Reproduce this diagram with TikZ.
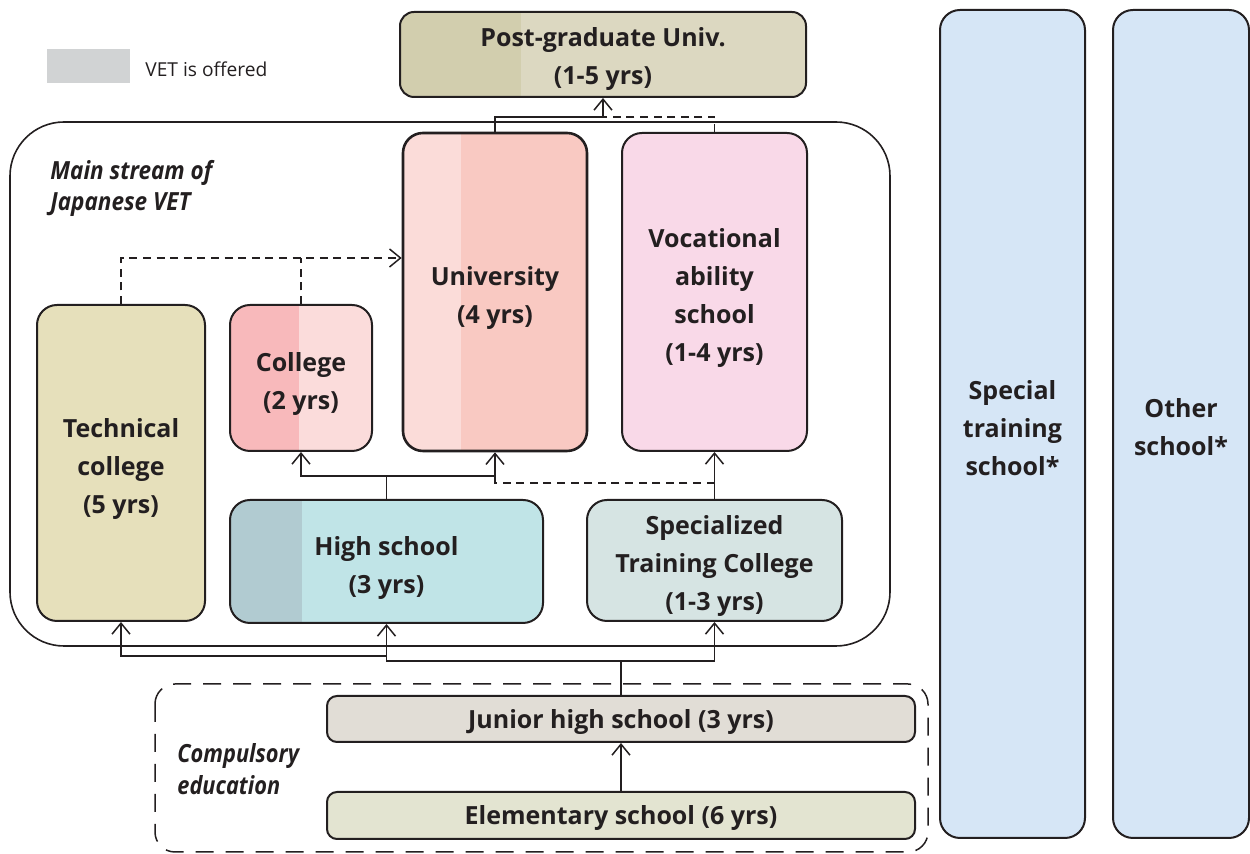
\documentclass[tikz,border=0pt]{standalone}
\usepackage{fontspec}
\usepackage{graphicx}
\setmainfont{Open Sans}
\usetikzlibrary{arrows.meta}

\definecolor{ink}{HTML}{231F20}
\definecolor{legendgrey}{HTML}{D1D3D4}
\definecolor{postR}{HTML}{DCD8C1}
\definecolor{postL}{HTML}{D2CEAE}
\definecolor{univR}{HTML}{F9C9C2}
\definecolor{univL}{HTML}{FBDCD9}
\definecolor{vocF}{HTML}{F9D9E8}
\definecolor{techF}{HTML}{E6E0BB}
\definecolor{collR}{HTML}{FBDCDB}
\definecolor{collL}{HTML}{F8B9BB}
\definecolor{highR}{HTML}{C0E4E7}
\definecolor{highL}{HTML}{B1CBD1}
\definecolor{stcF}{HTML}{D6E4E3}
\definecolor{sideF}{HTML}{D6E6F6}
\definecolor{juniorF}{HTML}{E1DDD6}
\definecolor{elemF}{HTML}{E3E4D1}

\newcommand{\narrowtext}[2]{\scalebox{#1}[1]{#2}}

\tikzset{
  box/.style={draw=ink, line width=1pt, rounded corners=10pt, inner sep=0pt},
  boxtext/.style={text=ink, align=center, inner sep=0pt, yshift=-3pt,
    font=\bfseries\fontsize{12.5}{19}\selectfont},
  onerow/.style={rounded corners=5pt},
  strip/.style 2 args={path picture={\fill[#1, sharp corners]
    (path picture bounding box.north west) rectangle
    ([xshift=#2]path picture bounding box.south west);}},
  link/.style={draw=ink, line width=0.75pt},
  arr/.style={link, -{Straight Barb[length=5.5pt,width=9pt,line width=0.75pt]}},
  dashlink/.style={link, dash pattern=on 4pt off 2.8pt},
  sidenote/.style={text=ink, align=left, inner sep=0pt,
    font=\bfseries\itshape\fontsize{12.5}{15.5}\selectfont},
}

\begin{document}
\begin{tikzpicture}[x=0.5pt,y=-0.5pt]
\useasboundingbox (0,0) rectangle (1250,854);

% legend
\fill[legendgrey] (47,49) rectangle (130,83);
\node[anchor=west, text=ink, inner sep=0pt, font=\fontsize{9.6}{11}\selectfont]
  (legend) at (145,69) {VET is offered};

% frame of the main stream
\draw[ink, line width=0.8pt, rounded corners=27pt] (10,122) rectangle (890,646);
\node[sidenote, anchor=west] (mainlbl) at (50,188)
  {\narrowtext{0.9}{Main stream of}\\\narrowtext{0.9}{Japanese VET}};

% frame of compulsory education
\draw[ink, line width=0.75pt, dash pattern=on 9pt off 6pt, rounded corners=10pt]
  (155,684) rectangle (928,852);
\node[sidenote, anchor=west, font=\bfseries\itshape\fontsize{12.5}{16}\selectfont]
  (complbl) at (177,769)
  {\narrowtext{0.87}{Compulsory}\\\narrowtext{0.87}{education}};

% schools
\node[box, fill=postR, strip={postL}{60.5pt}, rounded corners=7pt,
  minimum width=203pt, minimum height=42.5pt,
  label={[boxtext, yshift=0.5pt]center:{Post-graduate Univ.\\(1-5 yrs)}}]
  (post) at (603,54.5) {};
\node[box, fill=univR, strip={univL}{29pt}, line width=1.3pt,
  minimum width=92pt, minimum height=159pt,
  label={[boxtext]center:{University\\(4 yrs)}}]
  (univ) at (495,292) {};
\node[box, fill=vocF, minimum width=92.5pt, minimum height=159pt,
  label={[boxtext]center:{Vocational\\ability\\school\\(1-4 yrs)}}]
  (voc) at (714.5,292) {};
\node[box, fill=techF, minimum width=84pt, minimum height=158pt,
  label={[boxtext]center:{Technical\\college\\(5 yrs)}}]
  (tech) at (121,463) {};
\node[box, fill=collR, strip={collL}{34.5pt}, minimum width=71pt,
  minimum height=73pt,
  label={[boxtext]center:{College\\(2 yrs)}}]
  (college) at (301,378) {};
\node[box, fill=highR, strip={highL}{36pt}, minimum width=156.5pt,
  minimum height=61.5pt,
  label={[boxtext, yshift=-0.5pt]center:{High school\\(3 yrs)}}]
  (high) at (386.5,561.5) {};
\node[box, fill=stcF, minimum width=127.5pt, minimum height=60.5pt,
  label={[boxtext]center:{Specialized\\Training College\\(1-3 yrs)}}]
  (stc) at (714.5,560.5) {};
\node[box, fill=sideF, minimum width=72.5pt, minimum height=414pt,
  label={[boxtext, yshift=1pt]center:{Special\\training\\school*}}]
  (special) at (1012.5,424) {};
\node[box, fill=sideF, minimum width=68pt, minimum height=414pt,
  label={[boxtext, yshift=1.5pt]center:{Other\\school*}}]
  (other) at (1181,424) {};
\node[box, onerow, fill=juniorF, minimum width=294pt, minimum height=23pt,
  label={[boxtext, yshift=1.5pt]center:{Junior high school (3 yrs)}}]
  (junior) at (621,719) {};
\node[box, onerow, fill=elemF, minimum width=294pt, minimum height=23.5pt,
  label={[boxtext, yshift=1.5pt]center:{Elementary school (6 yrs)}}]
  (elem) at (621,815.5) {};

% junction points
\coordinate (jjun) at (621,661);
\coordinate (jtech) at (386.5,656);
\coordinate (jhigh) at (386.5,476);
\coordinate (jstc) at (714.5,483);
\coordinate (junivlow) at (495,483);
\coordinate (jside) at (121,258);
\coordinate (jpost) at (603,117);

% compulsory education upward
\draw[arr] (elem.north) -- (junior.south);
\draw[link] (junior.north) -- (jjun);
\draw[arr] (jjun) -| (stc.south);
\draw[arr] (jjun) -| (high.south);
\draw[arr] (jtech) -| (tech.south);

% from high school
\draw[link] (high.north) -- (jhigh);
\draw[arr] (jhigh) -| (college.south);
\draw[arr] (jhigh) -| (univ.south);

% from specialized training college
\draw[arr] (stc.north) -- (voc.south);
\draw[dashlink] (jstc) -- (junivlow) -- (univ.south |- jhigh);

% transfer into university
\draw[dashlink, -{Straight Barb[length=5.5pt,width=9pt,line width=0.75pt]}]
  (tech.north) |- (univ.west |- jside);
\draw[dashlink] (college.north) -- (college.north |- jside);

% to post-graduate
\draw[link] (univ.north) |- (jpost);
\draw[dashlink] (voc.north) |- (jpost);
\draw[arr] (jpost) -- (post.south);
\end{tikzpicture}
\end{document}
